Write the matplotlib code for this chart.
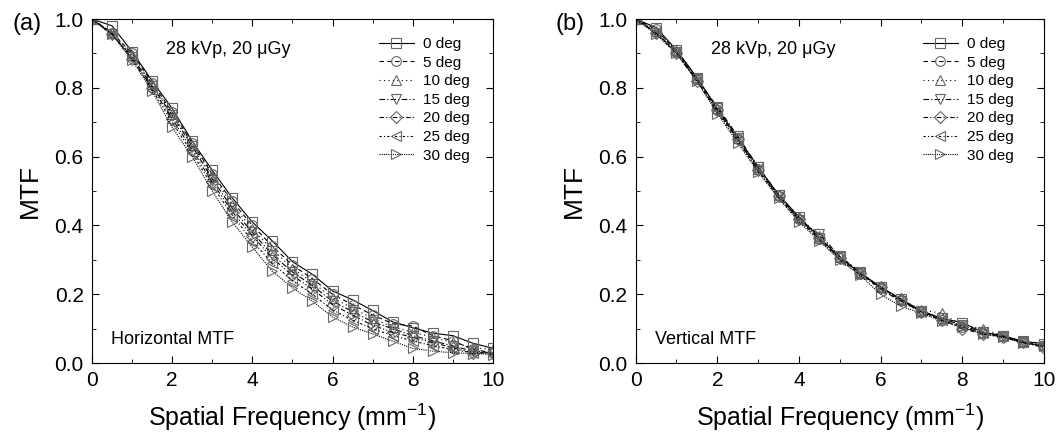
import numpy as np
import matplotlib.pyplot as plt
from matplotlib.ticker import MultipleLocator

plt.rcParams['font.family'] = ['Liberation Sans', 'DejaVu Sans']
plt.rcParams['mathtext.default'] = 'regular'

freq = np.arange(0, 10.01, 0.5)
labels = ['0 deg', '5 deg', '10 deg', '15 deg', '20 deg', '25 deg', '30 deg']

# horizontal MTF
h0 = [1.0, 0.98, 0.905, 0.82, 0.74, 0.645, 0.56, 0.48, 0.41, 0.355, 0.295, 0.258, 0.21, 0.184, 0.153, 0.12, 0.103, 0.087, 0.08, 0.058, 0.043]
h5 = [1.0, 0.96, 0.90, 0.815, 0.73, 0.64, 0.55, 0.47, 0.40, 0.34, 0.285, 0.245, 0.20, 0.17, 0.14, 0.115, 0.108, 0.08, 0.065, 0.04, 0.03]
h10 = [1.0, 0.96, 0.895, 0.81, 0.725, 0.635, 0.545, 0.46, 0.39, 0.33, 0.275, 0.235, 0.19, 0.16, 0.13, 0.105, 0.09, 0.075, 0.06, 0.045, 0.04]
h15 = [1.0, 0.955, 0.89, 0.805, 0.72, 0.63, 0.535, 0.45, 0.38, 0.315, 0.265, 0.225, 0.18, 0.15, 0.12, 0.10, 0.08, 0.065, 0.05, 0.035, 0.03]
h20 = [1.0, 0.955, 0.885, 0.80, 0.71, 0.62, 0.525, 0.44, 0.37, 0.305, 0.255, 0.215, 0.17, 0.14, 0.11, 0.09, 0.075, 0.06, 0.045, 0.03, 0.03]
h25 = [1.0, 0.955, 0.885, 0.795, 0.70, 0.61, 0.515, 0.43, 0.355, 0.29, 0.24, 0.20, 0.155, 0.125, 0.10, 0.08, 0.065, 0.05, 0.04, 0.03, 0.028]
h30 = [1.0, 0.955, 0.88, 0.79, 0.685, 0.60, 0.50, 0.41, 0.337, 0.267, 0.219, 0.18, 0.134, 0.105, 0.085, 0.064, 0.043, 0.035, 0.03, 0.028, 0.025]

# vertical MTF
v0 = [1.0, 0.975, 0.91, 0.83, 0.74, 0.655, 0.57, 0.49, 0.425, 0.365, 0.307, 0.262, 0.222, 0.186, 0.152, 0.13, 0.118, 0.09, 0.08, 0.063, 0.057]
v5 = [1.0, 0.97, 0.905, 0.825, 0.735, 0.65, 0.565, 0.485, 0.42, 0.36, 0.305, 0.26, 0.22, 0.183, 0.15, 0.125, 0.105, 0.087, 0.078, 0.06, 0.05]
v10 = [1.0, 0.965, 0.91, 0.83, 0.74, 0.655, 0.565, 0.49, 0.425, 0.37, 0.31, 0.265, 0.22, 0.185, 0.155, 0.145, 0.11, 0.10, 0.08, 0.062, 0.055]
v15 = [1.0, 0.96, 0.905, 0.825, 0.745, 0.66, 0.57, 0.49, 0.415, 0.375, 0.31, 0.265, 0.215, 0.18, 0.15, 0.13, 0.11, 0.09, 0.078, 0.06, 0.05]
v20 = [1.0, 0.96, 0.90, 0.82, 0.735, 0.65, 0.56, 0.485, 0.42, 0.365, 0.305, 0.262, 0.22, 0.185, 0.15, 0.125, 0.10, 0.085, 0.075, 0.06, 0.045]
v25 = [1.0, 0.96, 0.90, 0.82, 0.73, 0.645, 0.56, 0.48, 0.415, 0.36, 0.30, 0.258, 0.215, 0.18, 0.148, 0.125, 0.11, 0.087, 0.078, 0.06, 0.05]
v30 = [1.0, 0.955, 0.90, 0.82, 0.725, 0.64, 0.555, 0.48, 0.41, 0.355, 0.30, 0.255, 0.20, 0.165, 0.145, 0.122, 0.105, 0.085, 0.075, 0.058, 0.05]

hor = [h0, h5, h10, h15, h20, h25, h30]
ver = [v0, v5, v10, v15, v20, v25, v30]

markers = ['s', 'o', '^', 'v', 'D', '<', '>']
styles = ['-', (0, (4, 3)), (0, (1, 3)), (0, (5, 2, 1, 2)), (0, (4, 2, 1, 2, 1, 2)),
          (0, (2, 2, 1, 2)), (0, (1, 1))]
msizes = [7, 7, 7, 7, 6, 7, 7]

fig = plt.figure(figsize=(10.63, 4.37), dpi=100)
ax1 = fig.add_axes([0.0866, 0.169, 0.377, 0.7875])
ax2 = fig.add_axes([0.598, 0.169, 0.384, 0.7875])

panels = [(ax1, hor, 'Horizontal MTF', '(a)', 0.958),
          (ax2, ver, 'Vertical MTF', '(b)', 0.941)]
for ax, data, name, tag, legx in panels:
    for y, lab, m, ls, ms in zip(data, labels, markers, styles, msizes):
        ax.plot(freq, y, color='black', linestyle=ls, linewidth=0.8, marker=m,
                markersize=ms, markerfacecolor='none', markeredgecolor='0.4',
                markeredgewidth=0.8, label=lab)
    ax.set_xlim(0, 10)
    ax.set_ylim(0, 1.0)
    ax.xaxis.set_major_locator(MultipleLocator(2))
    ax.xaxis.set_minor_locator(MultipleLocator(1))
    ax.yaxis.set_major_locator(MultipleLocator(0.2))
    ax.yaxis.set_minor_locator(MultipleLocator(0.1))
    ax.yaxis.set_major_formatter(plt.FormatStrFormatter('%.1f'))
    ax.tick_params(which='both', direction='in', top=True, right=True, labelsize=15, pad=6)
    ax.tick_params(which='major', length=5)
    ax.tick_params(which='minor', length=3)
    ax.set_xlabel('Spatial Frequency (mm$^{-1}$)', fontsize=18, labelpad=8)
    ax.set_ylabel('MTF', fontsize=19, labelpad=9)
    ax.text(1.85, 0.91, '28 kVp, 20 \u03bcGy', fontsize=13, ha='left', va='center')
    ax.text(0.47, 0.07, name, fontsize=13, ha='left', va='center')
    x0 = ax.get_position().x0
    fig.text(x0 - 80 / 1063, 0.945, tag, fontsize=17, ha='left', va='center')
    ax.legend(loc='upper right', bbox_to_anchor=(legx, 0.965), frameon=False, fontsize=11,
              handlelength=2.3, numpoints=1, labelspacing=0.3, handletextpad=0.6,
              borderaxespad=0)

fig.savefig('out.png', dpi=100)
